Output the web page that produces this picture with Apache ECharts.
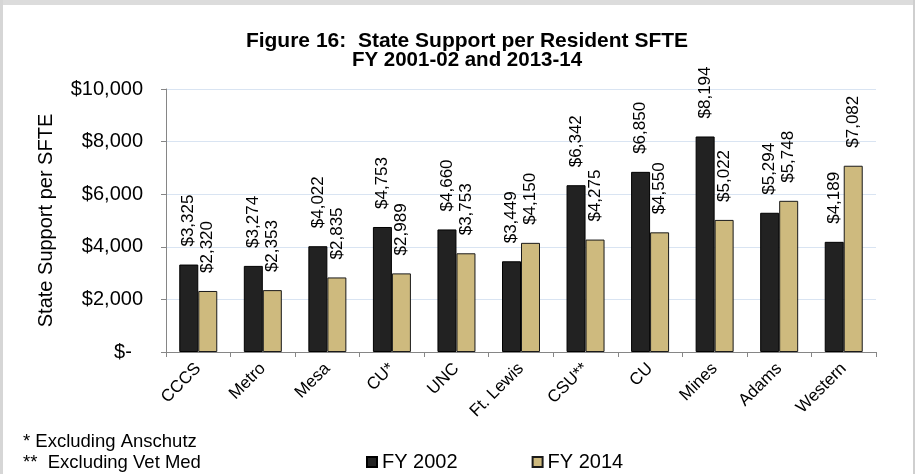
<!DOCTYPE html>
<html>
<head>
<meta charset="utf-8">
<title>Figure 16</title>
<script src="https://cdn.jsdelivr.net/npm/echarts@6/dist/echarts.min.js"></script>
<style>
  html, body { margin: 0; padding: 0; background: #fff; }
  .chart_box { width: 915px; height: 474px; }
</style>
</head>
<body>
<div class="chart_box"></div>
<script>
// 数据
var schools = ['CCCS', 'Metro', 'Mesa', 'CU*', 'UNC', 'Ft. Lewis', 'CSU**', 'CU', 'Mines', 'Adams', 'Western'];
var fy2002 = [3325, 3274, 4022, 4753, 4660, 3449, 6342, 6850, 8194, 5294, 4189];
var fy2014 = [2320, 2353, 2835, 2989, 3753, 4150, 4275, 4550, 5022, 5748, 7082];
var yTicks = [0, 2000, 4000, 6000, 8000, 10000];
var notes = ['* Excluding Anschutz', '**  Excluding Vet Med'];

var font = 'Liberation Sans, Arial, sans-serif';

function money(v) {
    if (v === 0) return '$-  ';
    return '$' + v.toLocaleString('en-US');
}

var chart = echarts.init(document.querySelector('.chart_box'));

// 数据标签
var barLabel = {
    show: true,
    position: 'top',
    distance: 18,
    rotate: 90,
    align: 'left',
    verticalAlign: 'middle',
    fontFamily: font,
    fontSize: 17,
    color: '#000',
    formatter: function (p) { return money(p.value); }
};

var option = {
    animation: false,
    backgroundColor: '#fff',
    title: {
        text: '{a|Figure 16:  State Support per Resident SFTE}\n{b|FY 2001-02 and 2013-14}',
        left: 462,
        top: 26,
        textAlign: 'center',
        textStyle: {
            fontFamily: font,
            fontWeight: 'bold',
            color: '#000',
            rich: {
                a: { fontFamily: font, fontSize: 21, fontWeight: 'bold', lineHeight: 19.5, color: '#000' },
                b: { fontFamily: font, fontSize: 20.5, fontWeight: 'bold', lineHeight: 19.5, color: '#000' }
            }
        }
    },
    legend: {
        left: 361,
        top: 447,
        itemWidth: 10,
        itemHeight: 10,
        itemGap: 74,
        icon: 'rect',
        textStyle: { fontFamily: font, fontSize: 20, color: '#000' },
        data: ['FY 2002', 'FY 2014']
    },
    grid: {
        left: 166,
        right: 39,
        top: 89,
        bottom: 122
    },
    xAxis: {
        type: 'category',
        data: schools,
        axisLine: { lineStyle: { color: '#868686', width: 1 } },
        axisTick: { show: true, length: 5, lineStyle: { color: '#868686' } },
        axisLabel: {
            interval: 0,
            rotate: 45,
            margin: 14,
            fontFamily: font,
            fontSize: 17,
            color: '#000'
        }
    },
    yAxis: {
        type: 'value',
        min: yTicks[0],
        max: yTicks[yTicks.length - 1],
        interval: yTicks[1] - yTicks[0],
        name: 'State Support per SFTE',
        nameLocation: 'middle',
        nameRotate: 90,
        nameGap: 110,
        nameTextStyle: { fontFamily: font, fontSize: 20, color: '#000' },
        axisLine: { show: true, lineStyle: { color: '#868686', width: 1 } },
        axisTick: { show: true, length: 5, lineStyle: { color: '#868686' } },
        axisLabel: {
            margin: 23,
            fontFamily: font,
            fontSize: 20,
            color: '#000',
            formatter: money
        },
        splitLine: { lineStyle: { color: '#d9e4f2', width: 1 } }
    },
    series: [
        {
            name: 'FY 2002',
            type: 'bar',
            data: fy2002,
            barWidth: 19,
            barGap: '0%',
            itemStyle: { color: '#222222', borderColor: '#000', borderWidth: 1 },
            label: barLabel
        },
        {
            name: 'FY 2014',
            type: 'bar',
            data: fy2014,
            barWidth: 19,
            barGap: '0%',
            itemStyle: { color: '#ceba7e', borderColor: '#1a1a1a', borderWidth: 1 },
            label: barLabel
        }
    ],
    graphic: [
        // 边框
        { type: 'rect', left: 0, top: 0, shape: { width: 915, height: 5 }, style: { fill: '#dcdcdc' }, silent: true },
        { type: 'rect', left: 0, top: 0, shape: { width: 3, height: 474 }, style: { fill: '#d6d6d6' }, silent: true },
        { type: 'rect', left: 913, top: 0, shape: { width: 2, height: 474 }, style: { fill: '#cfcfcf' }, silent: true },
        // 注释
        {
            type: 'text', left: 23, top: 432,
            style: { text: notes[0], fontFamily: font, fontSize: 18.5, fill: '#000' }
        },
        {
            type: 'text', left: 23, top: 453,
            style: { text: notes[1], fontFamily: font, fontSize: 18.5, fill: '#000' }
        }
    ]
};

chart.setOption(option);
</script>
</body>
</html>
